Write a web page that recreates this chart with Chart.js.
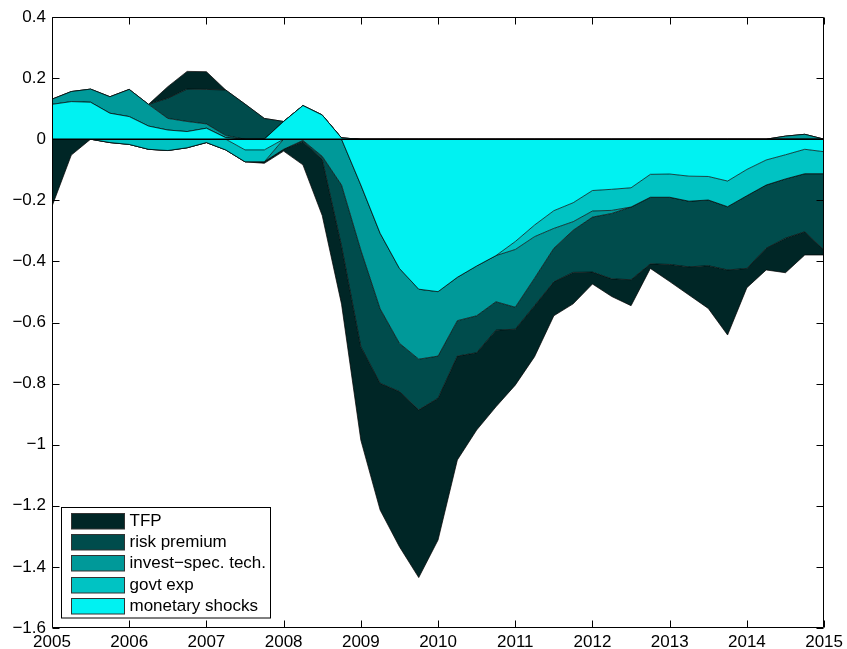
<!DOCTYPE html>
<html>
<head>
<meta charset="utf-8">
<script src="https://cdn.jsdelivr.net/npm/chart.js@4/dist/chart.umd.min.js"></script>
<style>
  html, body { margin: 0; padding: 0; background: #fff; }
  canvas { display: block; }
</style>
</head>
<body>
<canvas id="chart" width="847" height="649"></canvas>
<script>
// Quarterly dates, 2005Q1 .. 2015Q1
const startYear = 2005;
const quarterCount = 41;
const dates = Array.from({ length: quarterCount }, (_, i) => startYear + i / 4);

// Shock contributions per quarter
const tfp = [-0.220, -0.052, 0, 0, 0, 0, 0.038, 0.058, 0.058, 0,
  0, -0.005, -0.006, -0.076, -0.184, -0.190, -0.306, -0.415, -0.508, -0.549,
  -0.464, -0.340, -0.253, -0.251, -0.183, -0.167, -0.111, -0.103, -0.039, -0.058,
  -0.085, -0.015, -0.056, -0.092, -0.140, -0.213, -0.063, -0.071, -0.113, -0.076,
  -0.016];
const riskPremium = [0, 0, 0, 0, 0, 0, 0.066, 0.106, 0.113, 0.149,
  0.115, 0.068, 0, -0.004, -0.010, -0.200, -0.316, -0.244, -0.158, -0.166,
  -0.138, -0.116, -0.121, -0.093, -0.072, -0.090, -0.110, -0.138, -0.180, -0.214,
  -0.238, -0.218, -0.220, -0.215, -0.215, -0.207, -0.238, -0.207, -0.194, -0.190,
  -0.250];
const investSpec = [0.017, 0.033, 0.043, 0.054, 0.089, 0.071, 0.038, 0.033, 0.014, 0.007,
  0, 0, -0.033, -0.004, -0.056, -0.150, -0.213, -0.247, -0.245, -0.229,
  -0.211, -0.142, -0.163, -0.151, -0.189, -0.136, -0.065, -0.028, -0.020, -0.010,
  0, 0, 0, 0, 0, 0, 0, 0, 0.010, 0.016,
  0];
const govtExp = [0, 0, 0, -0.011, -0.017, -0.033, -0.037, -0.028, -0.011, -0.035,
  -0.039, -0.039, 0, 0, 0, 0, 0, 0, 0, 0,
  0, 0, 0, 0, -0.026, -0.038, -0.058, -0.062, -0.067, -0.069,
  -0.063, -0.075, -0.076, -0.082, -0.077, -0.084, -0.086, -0.082, -0.079, -0.080,
  -0.072];
const monetary = [0.114, 0.123, 0.121, 0.085, 0.074, 0.043, 0.030, 0.025, 0.036, 0.005,
  -0.035, -0.035, 0.058, 0.110, 0.079, 0.004, -0.150, -0.308, -0.423, -0.491,
  -0.499, -0.452, -0.415, -0.381, -0.335, -0.281, -0.234, -0.208, -0.168, -0.164,
  -0.159, -0.115, -0.114, -0.121, -0.122, -0.137, -0.099, -0.068, -0.051, -0.033,
  -0.041];

const seriesNames = ['TFP', 'risk premium', 'invest\u2212spec. tech.', 'govt exp', 'monetary shocks'];
const seriesColors = ['#002626', '#004c4c', '#009999', '#00c3c3', '#00f2f2'];
const seriesValues = [tfp, riskPremium, investSpec, govtExp, monetary];

const yearTicks = [2005, 2006, 2007, 2008, 2009, 2010, 2011, 2012, 2013, 2014, 2015];
const valueTicks = [0.4, 0.2, 0, -0.2, -0.4, -0.6, -0.8, -1, -1.2, -1.4, -1.6];

const FONT = "'Liberation Sans', Arial, Helvetica, sans-serif";

// Layers stack outward from zero: monetary closest, TFP outermost.
// Positive and negative parts are stacked separately.
const stackOrder = [4, 3, 2, 1, 0];

function cumulativeBounds(sign) {
  let run = dates.map(() => 0);
  return stackOrder.map(s => {
    const vals = seriesValues[s];
    run = run.map((r, i) => r + (sign > 0 ? Math.max(vals[i], 0) : Math.min(vals[i], 0)));
    return run.slice();
  });
}

const datasets = [];
[1, -1].forEach(sign => {
  const bounds = cumulativeBounds(sign);
  const base = datasets.length;
  bounds.forEach((b, k) => {
    const s = stackOrder[k];
    datasets.push({
      label: seriesNames[s] + (sign > 0 ? ' +' : ' \u2212'),
      data: dates.map((x, i) => ({ x, y: b[i] })),
      fill: k === 0 ? 'origin' : { target: base + k - 1 },
      backgroundColor: seriesColors[s],
      borderColor: '#000',
      borderWidth: 0.7,
      pointRadius: 0,
      tension: 0,
      order: 1
    });
  });
});
datasets.push({
  label: 'zero',
  data: [{ x: dates[0], y: 0 }, { x: dates[dates.length - 1], y: 0 }],
  fill: false,
  borderColor: '#000',
  borderWidth: 1.5,
  pointRadius: 0,
  order: 0
});

function fmtValue(v) {
  const r = Math.round(v * 10) / 10;
  return String(r).replace('-', '\u2212');
}

// Box, inward ticks on all four sides, and the legend panel
const framePlugin = {
  id: 'frame',
  afterDatasetsDraw(chart) {
    const ctx = chart.ctx;
    const { left, right, top, bottom } = chart.chartArea;
    const xs = chart.scales.x, ys = chart.scales.y;
    const L = Math.round(left) + 0.5, R = Math.round(right) - 0.5;
    const T = Math.round(top) + 0.5, B = Math.round(bottom) - 0.5;
    const tl = 7;
    ctx.save();
    ctx.strokeStyle = '#000';
    ctx.lineWidth = 1;
    ctx.beginPath();
    ctx.rect(L, T, R - L, B - T);
    valueTicks.forEach(v => {
      const y = Math.round(ys.getPixelForValue(v)) + 0.5;
      ctx.moveTo(L, y); ctx.lineTo(L + tl, y);
      ctx.moveTo(R, y); ctx.lineTo(R - tl, y);
    });
    yearTicks.forEach(v => {
      const x = Math.round(xs.getPixelForValue(v)) + 0.5;
      ctx.moveTo(x, B); ctx.lineTo(x, B - tl);
      ctx.moveTo(x, T); ctx.lineTo(x, T + tl);
    });
    ctx.stroke();

    // legend
    const bx = 61.5, by = 507.5, bw = 209, bh = 110.5;
    ctx.fillStyle = '#fff';
    ctx.fillRect(bx, by, bw, bh);
    ctx.strokeRect(bx, by, bw, bh);
    const rowTop = 513, pitch = 21.2, sw = 53, sh = 15.5;
    ctx.font = '17px ' + FONT;
    ctx.textBaseline = 'middle';
    ctx.textAlign = 'left';
    seriesNames.forEach((name, i) => {
      const y = Math.round(rowTop + i * pitch) + 0.5;
      ctx.fillStyle = seriesColors[i];
      ctx.fillRect(71.5, y, sw, sh);
      ctx.strokeStyle = '#333';
      ctx.strokeRect(71.5, y, sw, sh);
      ctx.fillStyle = '#000';
      ctx.fillText(name, 129.5, y + sh / 2 + 0.5);
    });
    ctx.restore();
  }
};

new Chart(document.getElementById('chart'), {
  type: 'line',
  data: { datasets },
  options: {
    responsive: false,
    animation: false,
    events: [],
    layout: { padding: { left: 0, top: 17, right: 22, bottom: 0 } },
    plugins: { legend: { display: false }, tooltip: { enabled: false } },
    scales: {
      x: {
        type: 'linear',
        min: yearTicks[0],
        max: yearTicks[yearTicks.length - 1],
        afterBuildTicks: s => { s.ticks = yearTicks.map(v => ({ value: v })); },
        afterFit: s => { s.height = 21; },
        ticks: {
          autoSkip: false, maxRotation: 0, padding: 4, color: '#000',
          font: { family: FONT, size: 17 },
          callback: v => String(v)
        },
        grid: { display: false, drawTicks: false },
        border: { display: false }
      },
      y: {
        min: valueTicks[valueTicks.length - 1],
        max: valueTicks[0],
        afterBuildTicks: s => { s.ticks = valueTicks.map(v => ({ value: v })); },
        afterFit: s => { s.width = 52; },
        ticks: {
          padding: 6, color: '#000',
          font: { family: FONT, size: 17 },
          callback: v => fmtValue(v)
        },
        grid: { display: false, drawTicks: false },
        border: { display: false }
      }
    }
  },
  plugins: [framePlugin]
});
</script>
</body>
</html>
